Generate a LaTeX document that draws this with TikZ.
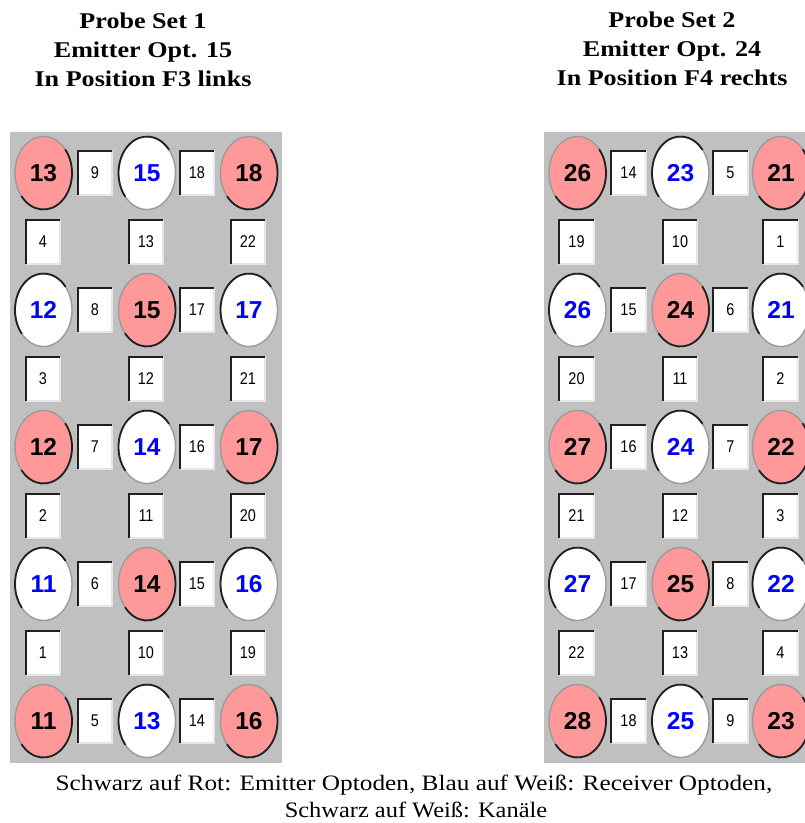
\documentclass[tikz,border=0pt]{standalone}
\usepackage{fontspec}
\setmainfont{Liberation Serif}
\newfontfamily\sansf{Liberation Sans}
\usepackage{graphicx}
\usetikzlibrary{shapes.geometric}
\definecolor{panelgray}{HTML}{C0C0C0}
\definecolor{emred}{HTML}{FF9999}
\definecolor{rcblue}{HTML}{0000FF}
\definecolor{rimdarkc}{HTML}{202020}
\definecolor{rimlightc}{HTML}{9A9A9A}
\definecolor{boxlightc}{HTML}{E6E6E6}
\tikzset{
  optode/.style={ellipse, inner sep=0pt, minimum width=57pt, minimum height=73pt,
    draw=rimlightc, line width=1.4pt, font=\sansf\bfseries\fontsize{24.5}{24.5}\selectfont},
  emnode/.style={optode, fill=emred, text=black},
  rcnode/.style={optode, fill=white, text=rcblue},
  rimdark/.style={draw=rimdarkc, line width=1.8pt, line cap=round},
  chan/.style={rectangle, inner sep=0pt, minimum width=34pt, minimum height=44pt,
    fill=white, font=\sansf\fontsize{17}{17}\selectfont},
  chandark/.style={draw=rimdarkc, line width=1.8pt},
  chanlight/.style={draw=boxlightc, line width=1.6pt},
  head/.style={anchor=base, inner sep=0pt, font=\bfseries\fontsize{22.5}{29}\selectfont},
  capt/.style={anchor=base, inner sep=0pt, font=\fontsize{22}{27}\selectfont},
}
\newcommand\emitter[4]{%
  \node[emnode] (#1) at (#2,#3) {#4};
  \draw[rimdark] ($(#1.center)+(-140:28.5pt and 36.5pt)$)
    arc[start angle=-140, end angle=40, x radius=28.5pt, y radius=36.5pt];}
\newcommand\receiver[4]{%
  \node[rcnode] (#1) at (#2,#3) {#4};
  \draw[rimdark] ($(#1.center)+(40:28.5pt and 36.5pt)$)
    arc[start angle=40, end angle=220, x radius=28.5pt, y radius=36.5pt];}
\newcommand\channel[4]{%
  \node[chan] (#1) at (#2,#3) {\scalebox{0.85}[1]{#4}};
  \draw[chanlight] (#1.south west) -| (#1.north east);
  \draw[chandark] (#1.south west) |- (#1.north east);}
\usetikzlibrary{calc}
\begin{document}
\begin{tikzpicture}[x=1pt,y=1pt]
\useasboundingbox (0,0) rectangle (805,-823);
\clip (0,0) rectangle (805,-823);
% headers
\node[head] (h1a) at (143,-28) {\scalebox{1.16}[1]{Probe Set 1}};
\node[head] (h1b) at (143,-57) {\scalebox{1.16}[1]{Emitter Opt. 15}};
\node[head] (h1c) at (143,-86) {\scalebox{1.16}[1]{In Position F3 links}};
\node[head] (h2a) at (672,-27.5) {\scalebox{1.16}[1]{Probe Set 2}};
\node[head] (h2b) at (672,-56.5) {\scalebox{1.16}[1]{Emitter Opt. 24}};
\node[head] (h2c) at (672,-85.5) {\scalebox{1.16}[1]{In Position F4 rechts}};
% panels
\fill[panelgray] (10,-132) rectangle (282,-763);
\fill[panelgray] (544,-132) rectangle (812,-763);
% left panel
\foreach \r/\a/\b/\c/\p/\q in {0/13/15/18/9/18, 1/12/15/17/8/17, 2/12/14/17/7/16, 3/11/14/16/6/15, 4/11/13/16/5/14}{
  \pgfmathsetmacro\yy{-(173+137*\r)}
  \ifodd\r\relax
    \receiver{La\r}{43.5}{\yy}{\a}
    \emitter{Lb\r}{147}{\yy}{\b}
    \receiver{Lc\r}{249}{\yy}{\c}
  \else
    \emitter{La\r}{43.5}{\yy}{\a}
    \receiver{Lb\r}{147}{\yy}{\b}
    \emitter{Lc\r}{249}{\yy}{\c}
  \fi
  \channel{Lp\r}{95}{\yy}{\p}
  \channel{Lq\r}{197}{\yy}{\q}
}
\foreach \r/\a/\b/\c in {0/4/13/22, 1/3/12/21, 2/2/11/20, 3/1/10/19}{
  \pgfmathsetmacro\yy{-(242+137*\r)}
  \channel{Lx\r}{43}{\yy}{\a}
  \channel{Ly\r}{146}{\yy}{\b}
  \channel{Lz\r}{248}{\yy}{\c}
}
% right panel
\foreach \r/\a/\b/\c/\p/\q in {0/26/23/21/14/5, 1/26/24/21/15/6, 2/27/24/22/16/7, 3/27/25/22/17/8, 4/28/25/23/18/9}{
  \pgfmathsetmacro\yy{-(173+137*\r)}
  \ifodd\r\relax
    \receiver{Ra\r}{577.5}{\yy}{\a}
    \emitter{Rb\r}{680.5}{\yy}{\b}
    \receiver{Rc\r}{781}{\yy}{\c}
  \else
    \emitter{Ra\r}{577.5}{\yy}{\a}
    \receiver{Rb\r}{680.5}{\yy}{\b}
    \emitter{Rc\r}{781}{\yy}{\c}
  \fi
  \channel{Rp\r}{628.5}{\yy}{\p}
  \channel{Rq\r}{730.5}{\yy}{\q}
}
\foreach \r/\a/\b/\c in {0/19/10/1, 1/20/11/2, 2/21/12/3, 3/22/13/4}{
  \pgfmathsetmacro\yy{-(242+137*\r)}
  \channel{Rx\r}{576.5}{\yy}{\a}
  \channel{Ry\r}{680}{\yy}{\b}
  \channel{Rz\r}{780.5}{\yy}{\c}
}
% caption
\node[capt] (cap1) at (414,-790) {\scalebox{1.15}[1]{Schwarz auf Rot: Emitter Optoden, Blau auf Weiß: Receiver Optoden,}};
\node[capt] (cap2) at (416,-817) {\scalebox{1.11}[1]{Schwarz auf Weiß: Kanäle}};
\end{tikzpicture}
\end{document}
